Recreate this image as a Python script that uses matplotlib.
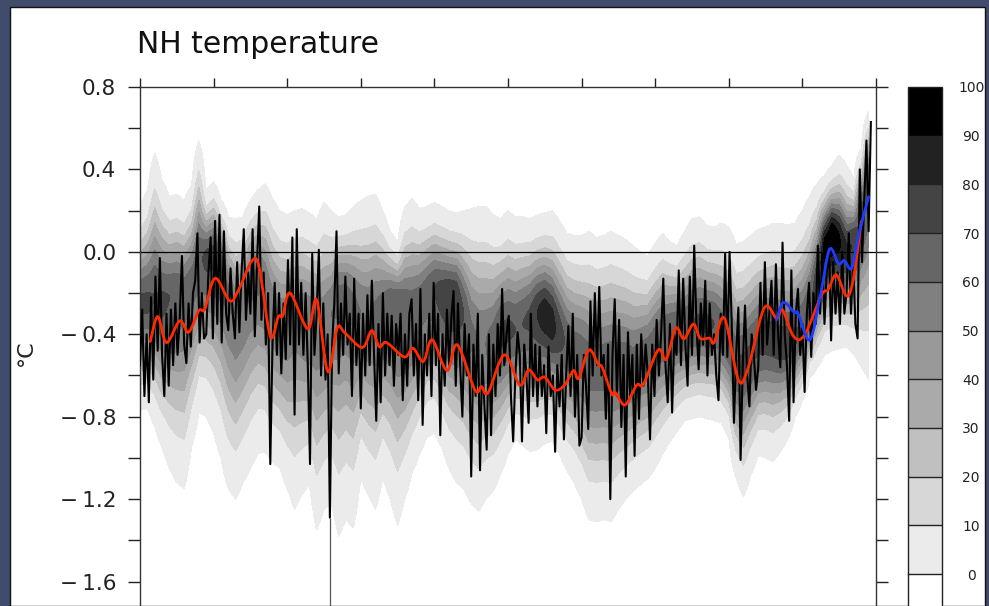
# ===================================
#     NH TEMPERATURE RECONSTRUCTION  #
# ===================================

import numpy as np
import matplotlib
matplotlib.use("Agg")
import matplotlib.pyplot as plt
from matplotlib.colors import ListedColormap, BoundaryNorm
from matplotlib.cm import ScalarMappable
from matplotlib.patches import Rectangle, PathPatch
from matplotlib.path import Path

# --- annual reconstruction, one value every 3 years from 1000 ---
annual_start = 1000
annual_step = 3
annual_values = [
    -0.55, -0.28, -0.7, -0.4, -0.73, -0.22, -0.62, -0.12, -0.48, -0.03,
    -0.5, -0.7, -0.3, -0.65, -0.28, -0.55, -0.25, -0.5, -0.32, -0.02,
    -0.45, -0.54, -0.25, -0.46, -0.2, -0.14, 0.09, -0.44, -0.2, -0.42,
    -0.4, -0.1, 0.07, -0.42, 0.15, -0.35, 0.18, -0.44, 0.1, -0.3,
    -0.38, -0.08, -0.3, -0.42, -0.05, -0.39, -0.1, 0.11, -0.33, -0.1,
    -0.3, 0.11, -0.41, -0.05, 0.22, -0.33, -0.1, -0.45, -0.2, -1.03,
    -0.45, -0.15, -0.5, -0.2, -0.59, -0.25, -0.52, -0.04, -0.45, 0.07,
    -0.79, 0.11, -0.45, -0.15, -0.5, -0.2, -0.55, -1.03, -0.01, -0.5,
    -0.3, 0.01, -0.6, -0.25, -0.62, -0.4, -1.29, -0.45, -0.25, 0.1,
    -0.59, -0.25, -0.5, -0.12, -0.45, -0.3, -0.7, -0.13, -0.55, -0.3,
    -0.76, -0.3, -0.6, -0.21, -0.55, -0.14, -0.5, -0.82, -0.35, -0.73,
    -0.2, -0.6, -0.3, -0.55, -0.31, -0.65, -0.35, -0.5, -0.3, -0.72,
    -0.4, -0.65, -0.3, -0.23, -0.6, -0.35, -0.72, -0.18, -0.84, -0.4,
    -0.6, -0.3, -0.7, -0.15, -0.55, -0.3, -0.89, -0.4, -0.65, -0.28,
    -0.55, -0.32, -0.19, -0.65, -0.25, -0.55, -0.8, -0.35, -0.6, -0.4,
    -1.09, -0.45, -0.7, -0.3, -1.06, -0.5, -0.75, -0.96, -0.4, -0.89,
    -0.45, -0.7, -0.35, -0.6, -0.18, -0.55, -0.4, -0.31, -0.7, -0.92,
    -0.6, -0.39, -0.5, -0.92, -0.45, -0.6, -0.83, -0.3, -0.7, -0.45,
    -0.75, -0.46, -0.7, -0.55, -0.88, -0.46, -0.7, -0.6, -0.97, -0.55,
    -0.75, -0.5, -0.91, -0.6, -0.36, -0.7, -0.3, -0.8, -0.5, -0.94,
    -0.9, -0.5, -0.65, -0.86, -0.24, -0.6, -0.2, -0.55, -0.17, -0.6,
    -0.5, -0.81, -0.45, -1.2, -0.5, -0.23, -0.7, -0.33, -0.85, -0.5,
    -1.09, -0.39, -0.7, -0.5, -0.99, -0.45, -0.81, -0.4, -0.65, -0.45,
    -0.6, -0.91, -0.45, -0.7, -0.33, -0.6, -0.4, -0.13, -0.55, -0.73,
    -0.35, -0.78, -0.4, -0.5, -0.09, -0.55, -0.13, -0.45, -0.65, -0.12,
    -0.5, 0.03, -0.35, -0.57, -0.25, -0.45, -0.14, -0.6, -0.25, -0.5,
    -0.4, -0.6, -0.72, -0.3, -0.5, -0.01, -0.51, 0.0, -0.35, -0.83,
    -0.5, -0.27, -1.01, -0.55, -0.26, -0.6, -0.75, -0.4, -0.5, -0.67,
    -0.56, -0.15, -0.5, -0.05, -0.45, -0.3, -0.14, -0.5, -0.06, -0.4,
    -0.56, 0.045, -0.4, -0.55, -0.82, -0.09, -0.73, -0.3, -0.18, -0.5,
    -0.35, -0.68, -0.3, -0.15, -0.51, -0.2, -0.35, 0.03, -0.3, -0.01,
    -0.35, -0.1, 0.06, -0.43, -0.05, -0.3, -0.1, -0.35, 0.0, -0.3,
    -0.2, 0.09, -0.3, -0.05, -0.35, -0.42, 0.4, -0.05, 0.25, 0.54,
    0.1, 0.63,
]

# 1258 eruption: the annual trace drops off the bottom of the panel
spike_year = 1258
spike_floor = -2.0

# --- smoothed reconstruction (red) ---
smooth_years = [1014, 1024, 1036, 1054, 1066, 1080, 1088, 1102, 1122, 1134,
                1152, 1162, 1177, 1188, 1194, 1204, 1228, 1240, 1255, 1268,
                1278, 1302, 1315, 1325, 1335, 1359, 1371, 1385, 1397, 1417,
                1431, 1455, 1464, 1473, 1495, 1516, 1528, 1540, 1550, 1564,
                1577, 1589, 1596, 1610, 1623, 1628, 1641, 1646, 1659, 1675,
                1684, 1704, 1715, 1728, 1739, 1752, 1761, 1774, 1780, 1794,
                1813, 1826, 1848, 1865, 1873, 1888, 1903, 1926, 1935, 1946,
                1960, 1969, 1980]
smooth_values = [-0.435, -0.314, -0.44, -0.335, -0.39, -0.285, -0.277, -0.128, -0.238, -0.184,
                 -0.044, -0.078, -0.41, -0.314, -0.31, -0.2, -0.374, -0.233, -0.58, -0.37,
                 -0.392, -0.464, -0.382, -0.46, -0.44, -0.51, -0.468, -0.532, -0.427, -0.576,
                 -0.451, -0.67, -0.654, -0.683, -0.5, -0.646, -0.573, -0.621, -0.608, -0.67,
                 -0.646, -0.576, -0.613, -0.476, -0.549, -0.56, -0.689, -0.683, -0.743, -0.646,
                 -0.642, -0.476, -0.521, -0.37, -0.422, -0.35, -0.419, -0.419, -0.44, -0.322,
                 -0.621, -0.565, -0.273, -0.322, -0.282, -0.41, -0.403, -0.209, -0.184, -0.112,
                 -0.214, -0.136, 0.147]

# --- instrumental record (blue) ---
instr_years = [1865, 1874, 1889, 1894, 1910, 1925, 1937, 1949, 1957, 1967, 1977, 1990]
instr_values = [-0.33, -0.246, -0.294, -0.298, -0.427, -0.2, 0.013, -0.058, -0.042,
                -0.079, 0.091, 0.268]

# --- ensemble density, every 10 years: mode, outer edges, peak level (%) ---
dens_years = list(range(1000, 2000, 10))
dens_mode = [
    -0.25, -0.25, -0.22, -0.25, -0.22, -0.2, -0.2, -0.15, -0.05, -0.02,
    0.0, -0.05, -0.2, -0.3, -0.25, -0.15, -0.12, -0.18, -0.3, -0.35,
    -0.35, -0.3, -0.32, -0.35, -0.35, -0.35, -0.3, -0.2, -0.2, -0.25,
    -0.3, -0.32, -0.3, -0.28, -0.25, -0.25, -0.3, -0.3, -0.25, -0.2,
    -0.18, -0.2, -0.22, -0.22, -0.3, -0.4, -0.45, -0.45, -0.45, -0.4,
    -0.38, -0.38, -0.35, -0.32, -0.3, -0.3, -0.35, -0.4, -0.45, -0.48,
    -0.5, -0.55, -0.55, -0.55, -0.55, -0.55, -0.55, -0.55, -0.52, -0.5,
    -0.45, -0.42, -0.4, -0.38, -0.38, -0.36, -0.35, -0.35, -0.35, -0.4,
    -0.45, -0.55, -0.55, -0.5, -0.45, -0.42, -0.42, -0.45, -0.45, -0.42,
    -0.38, -0.3, -0.15, 0.02, 0.08, 0.05, 0.0, 0.05, 0.2, 0.35,
]
dens_top = [
    0.22, 0.3, 0.48, 0.35, 0.27, 0.28, 0.25, 0.32, 0.54, 0.3,
    0.34, 0.25, 0.17, 0.16, 0.17, 0.25, 0.3, 0.33, 0.26, 0.2,
    0.18, 0.2, 0.21, 0.19, 0.16, 0.24, 0.2, 0.17, 0.18, 0.22,
    0.25, 0.27, 0.28, 0.2, 0.1, 0.05, 0.22, 0.26, 0.21, 0.22,
    0.24, 0.22, 0.2, 0.19, 0.2, 0.21, 0.22, 0.22, 0.18, 0.16,
    0.2, 0.17, 0.17, 0.16, 0.18, 0.19, 0.2, 0.15, 0.09, 0.08,
    0.08, 0.1, 0.07, 0.08, 0.1, 0.08, 0.06, 0.03, 0.0, -0.02,
    0.04, 0.09, 0.05, 0.03, 0.1, 0.16, 0.17, 0.13, 0.12, 0.14,
    0.12, 0.04, 0.05, 0.08, 0.11, 0.12, 0.14, 0.14, 0.13, 0.14,
    0.2, 0.27, 0.33, 0.37, 0.42, 0.47, 0.42, 0.36, 0.5, 0.68,
]
dens_bottom = [
    -0.77, -0.76, -0.85, -0.95, -1.05, -1.12, -1.15, -0.95, -0.78, -0.8,
    -0.88, -1.0, -1.15, -1.2, -1.12, -1.05, -0.98, -0.97, -1.02, -1.05,
    -1.15, -1.25, -1.18, -1.13, -1.35, -1.25, -1.22, -1.38, -1.3, -1.34,
    -1.1, -1.18, -1.25, -1.1, -1.2, -1.33, -1.2, -1.07, -0.98, -0.9,
    -0.88, -0.95, -1.05, -1.12, -1.15, -1.22, -1.26, -1.2, -1.16, -1.08,
    -0.98, -0.91, -0.94, -0.97, -0.96, -0.93, -0.92, -0.98, -1.06, -1.12,
    -1.2, -1.3, -1.31, -1.3, -1.31, -1.25, -1.2, -1.16, -1.13, -1.1,
    -1.05, -0.98, -0.92, -0.87, -0.82, -0.81, -0.8, -0.81, -0.82, -0.83,
    -0.9, -1.1, -1.19, -1.08, -0.99, -1.0, -1.02, -0.97, -0.91, -0.8,
    -0.72, -0.61, -0.56, -0.5, -0.48, -0.47, -0.46, -0.5, -0.56, -0.62,
]
dens_peak = [
    72, 72, 70, 72, 70, 68, 65, 65, 68, 72,
    72, 68, 62, 60, 60, 62, 62, 60, 58, 58,
    58, 55, 58, 60, 58, 58, 60, 62, 62, 62,
    60, 60, 62, 65, 68, 70, 70, 68, 66, 66,
    70, 75, 80, 78, 70, 62, 60, 60, 65, 72,
    72, 70, 70, 72, 80, 86, 85, 75, 68, 65,
    65, 65, 65, 65, 66, 66, 66, 64, 64, 66,
    66, 68, 70, 70, 70, 70, 72, 72, 70, 68,
    68, 70, 72, 72, 72, 74, 75, 75, 75, 72,
    70, 72, 80, 95, 100, 92, 82, 80, 75, 70,
]

# contour levels and their greys (white below 0)
levels = [0, 10, 20, 30, 40, 50, 60, 70, 80, 90, 100]
grey_shades = ["#ebebeb", "#d7d7d7", "#c0c0c0", "#aaaaaa", "#999999",
               "#808080", "#666666", "#444444", "#222222", "#000000"]

# y axis labels every 0.4 down to -1.6
ylabel_values = [0.8, 0.4, 0.0, -0.4, -0.8, -1.2, -1.6]


# --- build the density field from mode / edges / peak ---
def density_field(years, mode, top, bottom, peak, yy, floor=4.0):
    mode = np.asarray(mode)
    height = np.asarray(peak, dtype=float) + floor
    reach = np.sqrt(2.0 * np.log(height / floor))
    s_up = (np.asarray(top) - mode) / reach
    s_dn = (mode - np.asarray(bottom)) / reach
    X, Y = np.meshgrid(years, yy)
    z = np.where(Y > mode, (Y - mode) / s_up, (mode - Y) / s_dn)
    return X, Y, height * np.exp(-0.5 * z ** 2) - floor


# --- curved path through the points (Catmull-Rom as cubic Bezier) ---
def curve_through(xs, ys):
    pts = np.column_stack([xs, ys]).astype(float)
    verts, codes = [pts[0]], [Path.MOVETO]
    n = len(pts)
    for i in range(n - 1):
        p0 = pts[max(i - 1, 0)]
        p1, p2 = pts[i], pts[i + 1]
        p3 = pts[min(i + 2, n - 1)]
        verts += [p1 + (p2 - p0) / 6.0, p2 - (p3 - p1) / 6.0, p2]
        codes += [Path.CURVE4] * 3
    return Path(verts, codes)


def tick_text(v):
    if not any(abs(v - l) < 1e-6 for l in ylabel_values):
        return ""
    s = "%.1f" % abs(v)
    return ("\u2212\u2009" + s) if v < -1e-6 else s


W, H = 989, 606
fig = plt.figure(figsize=(W / 100, H / 100), dpi=100)
fig.patch.set_facecolor("#414c6c")
fig.patches.append(Rectangle((10 / W, 0), 975 / W, 1 - 7 / H, transform=fig.transFigure,
                             facecolor="white", edgecolor="#111111", lw=1.0, zorder=-10))

ymin, ymax = -2.0, 0.8
ax_top, ax_bot = 87, 252 - ymin * 206
ax = fig.add_axes([140 / W, 1 - ax_bot / H, 736 / W, (ax_bot - ax_top) / H])
ax.set_facecolor("none")

cmap = ListedColormap(grey_shades)
cmap.set_under("white")
norm = BoundaryNorm(levels, cmap.N)

yy = np.linspace(ymin, ymax, 600)
X, Y, field = density_field(dens_years, dens_mode, dens_top, dens_bottom, dens_peak, yy)
ax.contourf(X, Y, field, levels=levels, cmap=cmap, norm=norm, zorder=1)

ax.axhline(0, color="black", lw=0.9, zorder=2)

annual_years = annual_start + annual_step * np.arange(len(annual_values))
ax.plot(annual_years, annual_values, color="black", lw=1.5, zorder=3)
spike_value = annual_values[(spike_year - annual_start) // annual_step]
ax.vlines(spike_year, spike_floor, spike_value, color="#555555", lw=0.9, zorder=3)

# smoothed and instrumental curves
for xs, ys, col, z in [(smooth_years, smooth_values, "#ff2a00", 4),
                       (instr_years, instr_values, "#1c3cff", 5)]:
    ax.add_patch(PathPatch(curve_through(xs, ys), facecolor="none", edgecolor=col,
                           lw=2.0, capstyle="round", joinstyle="round", zorder=z))

ax.set_xlim(1000, 2000)
ax.set_ylim(ymin, ymax)

# axes, ticks
yt = np.round(np.arange(-2.0, 0.81, 0.2), 1)
ax.set_yticks(yt)
ax.set_yticklabels([tick_text(v) for v in yt])
ax.set_xticks(np.arange(1000, 2001, 100))
ax.tick_params(axis="y", which="both", direction="out", length=8.6, width=1.0,
               pad=8.5, labelsize=15.5, colors="#222222", left=True, right=True)
ax.tick_params(axis="x", direction="out", length=6.5, width=1.0, top=True,
               labelbottom=False, colors="#222222")
for sp in ax.spines.values():
    sp.set_color("#333333")
    sp.set_linewidth(1.0)

fig.text(137 / W, 1 - 53 / H, "NH temperature", fontsize=21.5, va="baseline",
         ha="left", color="#111111")
fig.text(26 / W, 1 - 353 / H, "\u00b0C", fontsize=16, rotation=90, va="center",
         ha="center", color="#222222")

# colour key
cb_top, cb_bot = 87, 574 + 48.7
cax = fig.add_axes([908 / W, 1 - cb_bot / H, 34 / W, (cb_bot - cb_top) / H])
cb = fig.colorbar(ScalarMappable(norm=norm, cmap=cmap), cax=cax, extend="min",
                  extendrect=True, extendfrac=0.1, drawedges=True, ticks=levels)
cb.outline.set_edgecolor("#222222")
cb.outline.set_linewidth(1.0)
cb.dividers.set_color("#222222")
cb.dividers.set_linewidth(1.0)
cax.tick_params(length=0, pad=21, labelsize=10, colors="#222222")
for lab in cax.get_yticklabels():
    lab.set_horizontalalignment("center")

fig.savefig("out.png", dpi=100, facecolor=fig.get_facecolor())
